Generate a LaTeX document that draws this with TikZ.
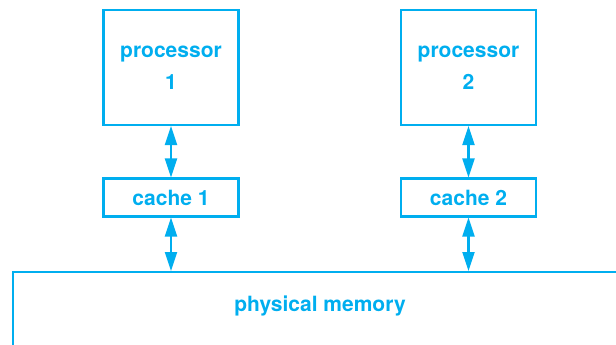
\documentclass[tikz,border=0pt]{standalone}
\usepackage{fontspec}
\setmainfont{TeX Gyre Heros}
\usepackage{tikz}
\usetikzlibrary{arrows.meta,positioning}
\definecolor{memcyan}{RGB}{0,174,239}

\begin{document}
\begin{tikzpicture}[x=1pt,y=-1pt,
  font=\fontsize{21}{32}\selectfont\bfseries,
  cpu/.style={draw=memcyan,line width=2.1pt,text=memcyan,align=center,minimum width=135pt,minimum height=115pt,inner sep=0pt},
  cachebox/.style={draw=memcyan,line width=2.1pt,text=memcyan,minimum width=135pt,minimum height=38pt,inner sep=0pt},
  arr/.style={{Triangle[length=19pt,width=12pt]}-{Triangle[length=19pt,width=12pt]},line width=2.1pt,memcyan}]
\useasboundingbox (0,0) rectangle (616,345);
\node[cpu] (p1) at (171,67.5) {processor\\1};
\node[cpu] (p2) at (468.5,67.5) {processor\\2};
\node[cachebox] (c1) at (171,197.5) {cache 1};
\node[cachebox] (c2) at (468.5,197.5) {cache 2};
\node[draw=memcyan,line width=2.1pt,minimum width=660pt,minimum height=100pt,anchor=north west,inner sep=0pt] (mem) at (12,271) {};
\node[text=memcyan] (memlbl) at (320,306) {physical memory};
\draw[arr] (p1) -- (c1);
\draw[arr] (p2) -- (c2);
\draw[arr] (c1) -- (c1 |- mem.north);
\draw[arr] (c2) -- (c2 |- mem.north);
\end{tikzpicture}
\end{document}
